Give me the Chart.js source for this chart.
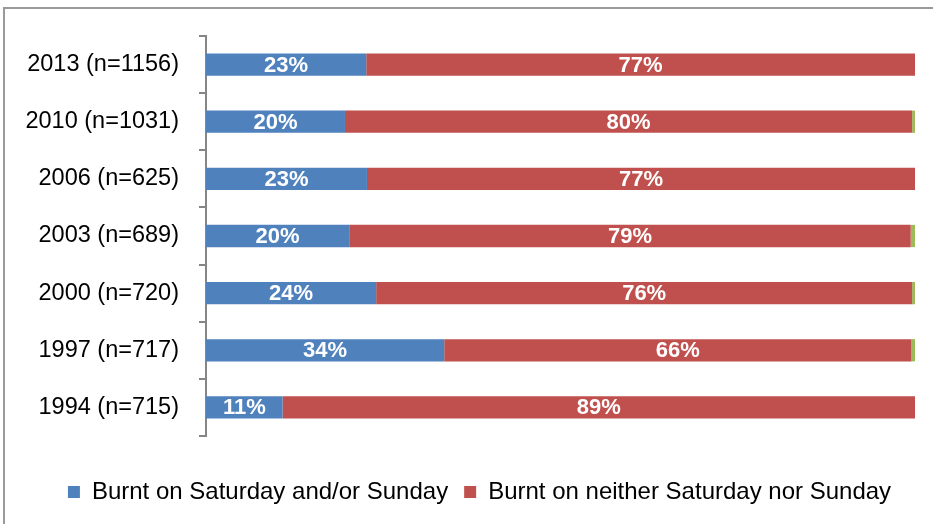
<!DOCTYPE html>
<html>
<head>
<meta charset="utf-8">
<script src="https://cdn.jsdelivr.net/npm/chart.js@4"></script>
<style>
  html, body { margin: 0; padding: 0; background: #fff; overflow: hidden; }
  #wrap { position: relative; width: 933px; height: 524px; }
  #frame { position: absolute; left: 3px; top: 7px; width: 950px; height: 540px; border: 2px solid #9a9a9a; box-sizing: border-box; }
  canvas { position: absolute; left: 0; top: 0; }
</style>
</head>
<body>
<div id="wrap">
  <div id="frame"></div>
  <canvas id="chart" width="933" height="524"></canvas>
</div>
<script>
const categories = ["2013 (n=1156)", "2010 (n=1031)", "2006 (n=625)", "2003 (n=689)", "2000 (n=720)", "1997 (n=717)", "1994 (n=715)"];
const weekend = [22.6, 19.6, 22.7, 20.2, 24.0, 33.6, 10.8];
const notWeekend = [77.4, 80.0, 77.3, 79.2, 75.6, 65.9, 89.2];
const other = [0, 0.4, 0, 0.6, 0.4, 0.5, 0];

const FONT = "'Liberation Sans', Arial, sans-serif";

// white percentage text in the middle of each bar
const barLabels = {
  id: "barLabels",
  afterDatasetsDraw(chart) {
    const ctx = chart.ctx;
    ctx.save();
    ctx.fillStyle = "#fff";
    ctx.font = "bold 22px " + FONT;
    ctx.textAlign = "center";
    ctx.textBaseline = "middle";
    [0, 1].forEach(di => {
      const meta = chart.getDatasetMeta(di);
      meta.data.forEach((bar, i) => {
        const v = chart.data.datasets[di].data[i];
        ctx.fillText(Math.round(v) + "%", (bar.x + bar.base) / 2, bar.y + 1);
      });
    });
    ctx.restore();
  }
};

// legend in the original sits a little right of the canvas centre
const legendShift = {
  id: "legendShift",
  afterLayout(chart) {
    chart.legend.left += 22;
    chart.legend.right += 22;
  }
};

new Chart(document.getElementById("chart").getContext("2d"), {
  type: "bar",
  data: {
    labels: categories,
    datasets: [
      { label: "Burnt on Saturday and/or Sunday", data: weekend, backgroundColor: "#4F81BD" },
      { label: "Burnt on neither Saturday nor Sunday", data: notWeekend, backgroundColor: "#C0504D" },
      { label: "Other", data: other, backgroundColor: "#9BBB59" }
    ]
  },
  options: {
    indexAxis: "y",
    responsive: false,
    animation: false,
    barPercentage: 0.39,
    categoryPercentage: 1,
    layout: { padding: { top: 36, right: 18, left: 0, bottom: 10 } },
    scales: {
      x: {
        stacked: true,
        min: 0,
        max: 100,
        ticks: { display: false },
        grid: { display: false },
        border: { display: false },
        afterFit(scale) { scale.height = 28; }
      },
      y: {
        stacked: true,
        grid: { drawOnChartArea: false, tickLength: 7, color: "#868686", lineWidth: 2, offset: true },
        border: { display: true, color: "#868686", width: 2 },
        ticks: { color: "#000", font: { family: FONT, size: 23.5 }, padding: 20 },
        afterFit(scale) { scale.width = 206; }
      }
    },
    plugins: {
      tooltip: { enabled: false },
      legend: {
        position: "bottom",
        labels: {
          color: "#000",
          font: { family: FONT, size: 24 },
          boxWidth: 12,
          boxHeight: 12,
          padding: 16,
          filter: item => item.datasetIndex < 2
        }
      }
    }
  },
  plugins: [barLabels, legendShift]
});
</script>
</body>
</html>
